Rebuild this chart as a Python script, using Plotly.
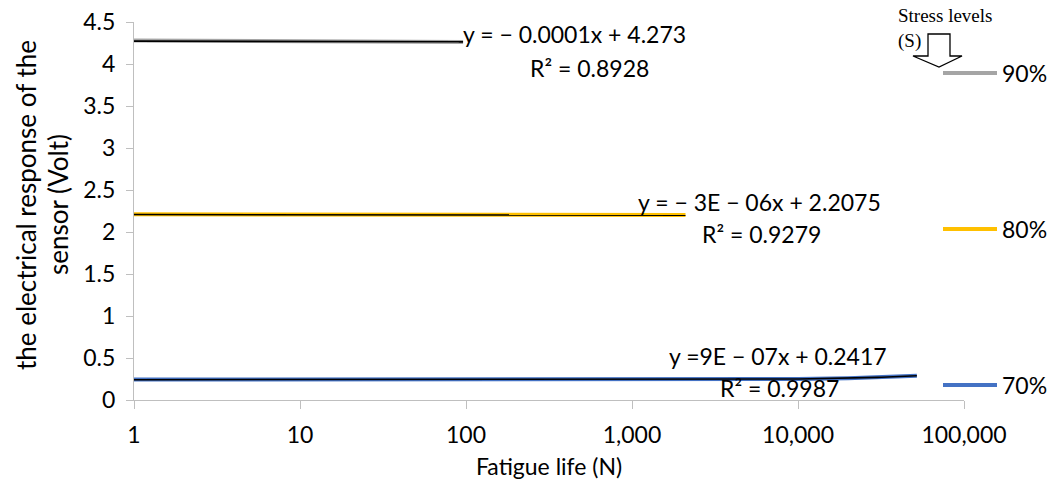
import numpy as np
import plotly.graph_objects as go

# ---------------- data ----------------
n90 = [1, 10, 20, 30, 40, 50, 60, 70, 80, 90, 96]
v90 = [4.280, 4.276, 4.273, 4.271, 4.269, 4.268, 4.267, 4.266, 4.265, 4.264, 4.263]

n80 = [1, 20, 21, 100, 200, 500, 1000, 1500, 2100]
v80 = [2.212, 2.212, 2.208, 2.207, 2.206, 2.205, 2.203, 2.202, 2.201]

n70 = [1, 100, 1000, 5000, 10000, 20000, 30000, 40000, 52000]
v70 = [0.243, 0.243, 0.243, 0.246, 0.250, 0.259, 0.268, 0.277, 0.288]

# trendline coefficients (slope, intercept) as shown in chart
trend90 = (-0.0001, 4.273)
trend80 = (-3e-06, 2.2075)
trend70 = (9e-07, 0.2417)

series_names = ["90%", "80%", "70%"]
colors = ["#A5A5A5", "#FFC000", "#4472C4"]

x_tickvals = [1, 10, 100, 1000, 10000, 100000]
x_ticktext = ["1", "10", "100", "1,000", "10,000", "100,000"]

eq_texts = [
    ("y = \u2212 0.0001x + 4.273", "R\u00b2 = 0.8928"),
    ("y = \u2212 3E \u2212 06x + 2.2075", "R\u00b2 = 0.9279"),
    ("y =9E \u2212 07x + 0.2417", "R\u00b2 = 0.9987"),
]

y_title_lines = ["the electrical response of the", "sensor (Volt)"]

# ---------------- layout helpers ----------------
W, H = 1049, 479
L, R, T, B = 134, 85, 22, 79
PW, PH = W - L - R, H - T - B


def px(x):
    return (x - L) / PW


def py(y):
    return (H - B - y) / PH


FONT = "Lato"
FS = 23
TXT = dict(family=FONT, size=FS, color="black")

fig = go.Figure()

data = [(n90, v90, trend90), (n80, v80, trend80), (n70, v70, trend70)]
for (n, v, tr), name, col in zip(data, series_names, colors):
    fig.add_trace(go.Scatter(x=n, y=v, mode="lines", name=name,
                             line=dict(color=col, width=4), showlegend=False))
for (n, v, tr) in data:
    xs = np.logspace(0, np.log10(n[-1]), 200)
    ys = tr[0] * xs + tr[1]
    fig.add_trace(go.Scatter(x=xs, y=ys, mode="lines",
                             line=dict(color="black", width=1.6), showlegend=False))

shapes = []
annotations = []

# custom legend
legend_y = [73, 229, 385]
for name, col, ly in zip(series_names, colors, legend_y):
    shapes.append(dict(type="line", xref="paper", yref="paper",
                       x0=px(943), x1=px(997), y0=py(ly), y1=py(ly),
                       line=dict(color=col, width=4)))
    annotations.append(dict(xref="paper", yref="paper", x=px(1000), y=py(ly),
                            text=name, showarrow=False, xanchor="left", yanchor="middle",
                            font=TXT))

# Stress levels label + block arrow
annotations.append(dict(xref="paper", yref="paper", x=px(896), y=py(3),
                        text="Stress levels<br>(S)", showarrow=False, xanchor="left",
                        yanchor="top", align="left",
                        font=dict(family="Liberation Serif", size=19, color="black")))
pts = [(928, 34), (950, 34), (950, 56), (962, 56), (939, 67), (913, 56), (928, 56)]
path = "M " + " L ".join(f"{px(a):.5f},{py(b):.5f}" for a, b in pts) + " Z"
shapes.append(dict(type="path", xref="paper", yref="paper", path=path,
                   line=dict(color="black", width=1.3), fillcolor="white"))

# equations
eq_pos = [((461, 34), (528, 68)), ((636, 202), (700, 234)), ((667, 356), (718, 388))]
for (eq, r2), ((ex, ey), (rx, ry)) in zip(eq_texts, eq_pos):
    annotations.append(dict(xref="paper", yref="paper", x=px(ex), y=py(ey), text=eq,
                            showarrow=False, xanchor="left", yanchor="middle", font=TXT))
    annotations.append(dict(xref="paper", yref="paper", x=px(rx), y=py(ry), text=r2,
                            showarrow=False, xanchor="left", yanchor="middle", font=TXT))

# axis titles
annotations.append(dict(xref="paper", yref="paper", x=0.5, y=py(466),
                        text="Fatigue life (N)", showarrow=False, xanchor="center",
                        yanchor="middle", font=TXT))
for line, cx in zip(y_title_lines, [26, 58]):
    annotations.append(dict(xref="paper", yref="paper", x=px(cx), y=py(205),
                            text=line, showarrow=False, textangle=-90,
                            xanchor="center", yanchor="middle",
                            font=dict(family=FONT, size=26, color="black")))

fig.update_layout(
    width=W, height=H,
    margin=dict(l=L, r=R, t=T, b=B, autoexpand=False),
    paper_bgcolor="white", plot_bgcolor="white",
    shapes=shapes, annotations=annotations,
    font=TXT,
    xaxis=dict(type="log", range=[0, 5], tickvals=x_tickvals, ticktext=x_ticktext,
               showgrid=False, zeroline=False, showline=True, linecolor="#BFBFBF",
               linewidth=1.3, ticks="outside", ticklen=8, tickcolor="#BFBFBF",
               tickfont=TXT, ticklabelstandoff=6),
    yaxis=dict(range=[0, 4.5], dtick=0.5, tick0=0, showgrid=False, zeroline=False,
               showline=True, linecolor="#BFBFBF", linewidth=1.3, ticks="outside",
               ticklen=7, tickcolor="#BFBFBF", tickfont=TXT, ticklabelstandoff=6),
)

fig.write_html("out.html")
